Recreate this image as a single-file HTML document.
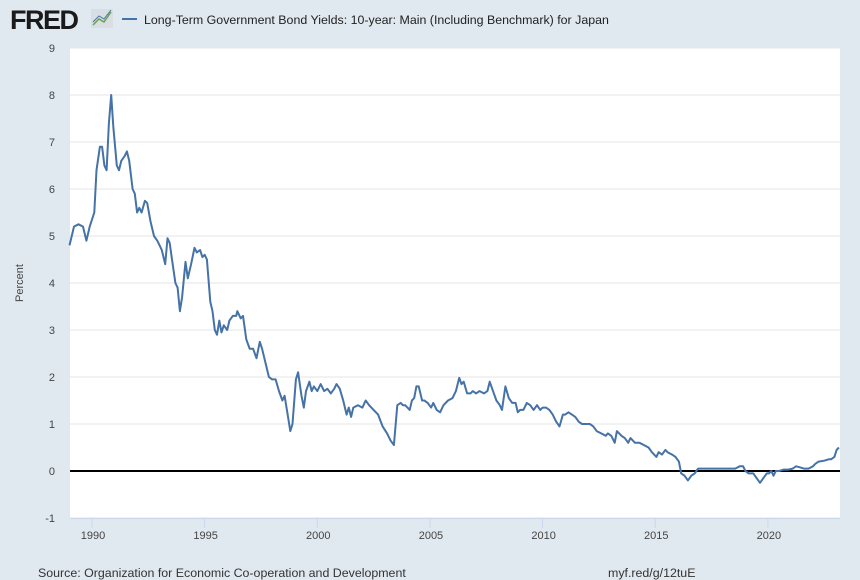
<!DOCTYPE html>
<html><head><meta charset="utf-8"><style>
body{margin:0;background:#e1e9f0;font-family:"Liberation Sans",sans-serif;}
svg{display:block}
</style></head><body>
<svg id="chart" width="860" height="580" font-family="Liberation Sans, sans-serif">
<rect width="860" height="580" fill="#e1e9f0"/>
<text x="10" y="29" font-size="27" font-weight="bold" fill="#1a1a1a" letter-spacing="-1.5">FRED</text>
<g><rect x="91" y="9" width="22" height="19" fill="#d8dee4"/><polyline points="93,25 99,19 104,22 111,12" fill="none" stroke="#6da34d" stroke-width="1.5"/><polyline points="93,22 99,16 104,19 111,10" fill="none" stroke="#4572a7" stroke-width="1"/></g>
<line x1="122" y1="19" x2="137" y2="19" stroke="#4572a7" stroke-width="2"/>
<text x="144" y="24" font-size="12.4" fill="#222">Long-Term Government Bond Yields: 10-year: Main (Including Benchmark) for Japan</text>
<rect x="70" y="48" width="770" height="470" fill="#fff"/>
<g id="grid"></g><g id="yticks"></g><g id="xticks"></g>
<text transform="translate(23,283) rotate(-90)" font-size="11" fill="#444" text-anchor="middle">Percent</text>
<path id="series" fill="none" stroke="#4572a7" stroke-width="2" stroke-linejoin="round"/>
<text x="38" y="577" font-size="12.4" fill="#333">Source: Organization for Economic Co-operation and Development</text>
<text x="608" y="577" font-size="12.4" fill="#333">myf.red/g/12tuE</text>
</svg>
<script>
const yTicks=[-1,0,1,2,3,4,5,6,7,8,9];
const xTicks=[1990,1995,2000,2005,2010,2015,2020];
const years=[1989.0,1989.2,1989.4,1989.6,1989.75,1989.9,1990.1,1990.2,1990.35,1990.45,1990.55,1990.65,1990.75,1990.85,1990.95,1991.1,1991.2,1991.3,1991.45,1991.55,1991.65,1991.8,1991.9,1992.0,1992.1,1992.2,1992.35,1992.45,1992.6,1992.75,1992.9,1993.0,1993.1,1993.25,1993.35,1993.45,1993.55,1993.7,1993.8,1993.9,1994.0,1994.15,1994.25,1994.4,1994.55,1994.65,1994.8,1994.9,1995.0,1995.1,1995.25,1995.35,1995.45,1995.55,1995.65,1995.75,1995.85,1996.0,1996.1,1996.25,1996.4,1996.45,1996.6,1996.7,1996.85,1997.0,1997.15,1997.3,1997.45,1997.55,1997.7,1997.85,1998.0,1998.15,1998.3,1998.45,1998.55,1998.65,1998.8,1998.9,1999.05,1999.15,1999.3,1999.4,1999.5,1999.65,1999.75,1999.85,2000.0,2000.15,2000.3,2000.45,2000.6,2000.75,2000.85,2001.0,2001.15,2001.3,2001.4,2001.5,2001.6,2001.8,2002.0,2002.15,2002.3,2002.5,2002.7,2002.9,2003.1,2003.25,2003.4,2003.55,2003.7,2003.8,2003.9,2004.1,2004.2,2004.3,2004.4,2004.5,2004.65,2004.75,2004.9,2005.05,2005.15,2005.3,2005.45,2005.6,2005.8,2006.0,2006.15,2006.3,2006.4,2006.5,2006.65,2006.8,2006.9,2007.05,2007.2,2007.4,2007.55,2007.65,2007.8,2007.95,2008.1,2008.2,2008.35,2008.5,2008.65,2008.8,2008.9,2009.0,2009.15,2009.3,2009.45,2009.6,2009.75,2009.9,2010.0,2010.15,2010.3,2010.45,2010.6,2010.75,2010.9,2011.0,2011.15,2011.3,2011.45,2011.6,2011.75,2011.9,2012.1,2012.25,2012.4,2012.6,2012.8,2012.9,2013.05,2013.2,2013.3,2013.4,2013.5,2013.65,2013.8,2013.9,2014.1,2014.3,2014.5,2014.7,2014.85,2015.05,2015.15,2015.3,2015.45,2015.55,2015.75,2015.9,2016.05,2016.15,2016.3,2016.45,2016.6,2016.75,2016.9,2017.05,2017.25,2017.4,2017.6,2017.8,2018.0,2018.2,2018.4,2018.55,2018.75,2018.9,2019.0,2019.15,2019.35,2019.5,2019.65,2019.8,2019.95,2020.05,2020.15,2020.25,2020.35,2020.5,2020.7,2020.9,2021.1,2021.25,2021.4,2021.6,2021.8,2022.0,2022.1,2022.25,2022.5,2022.7,2022.8,2022.95,2023.05,2023.15];
const yields=[4.8,5.2,5.25,5.2,4.9,5.2,5.5,6.4,6.9,6.9,6.5,6.4,7.4,8.0,7.3,6.5,6.4,6.6,6.7,6.8,6.6,6.0,5.9,5.5,5.6,5.5,5.75,5.7,5.3,5.0,4.9,4.8,4.7,4.4,4.95,4.85,4.5,4.0,3.9,3.4,3.7,4.45,4.1,4.4,4.75,4.65,4.7,4.55,4.6,4.5,3.6,3.4,3.0,2.9,3.2,2.95,3.1,3.0,3.2,3.3,3.3,3.4,3.25,3.3,2.8,2.6,2.6,2.4,2.75,2.6,2.3,2.0,1.95,1.95,1.7,1.5,1.6,1.3,0.85,1.0,1.95,2.1,1.6,1.35,1.7,1.9,1.7,1.8,1.7,1.85,1.7,1.75,1.65,1.75,1.85,1.75,1.5,1.2,1.35,1.15,1.35,1.4,1.35,1.5,1.4,1.3,1.2,0.95,0.8,0.65,0.55,1.4,1.45,1.4,1.4,1.3,1.5,1.55,1.8,1.8,1.5,1.5,1.45,1.35,1.45,1.3,1.25,1.4,1.5,1.55,1.7,1.98,1.85,1.9,1.65,1.65,1.7,1.65,1.7,1.65,1.7,1.9,1.7,1.5,1.4,1.3,1.8,1.55,1.45,1.45,1.25,1.3,1.3,1.45,1.4,1.3,1.4,1.3,1.35,1.35,1.3,1.2,1.05,0.95,1.2,1.2,1.25,1.2,1.15,1.05,1.0,1.0,1.0,0.95,0.85,0.8,0.75,0.8,0.75,0.6,0.85,0.8,0.75,0.7,0.6,0.7,0.6,0.6,0.55,0.5,0.4,0.3,0.4,0.35,0.45,0.4,0.35,0.3,0.2,-0.05,-0.1,-0.2,-0.1,-0.05,0.05,0.05,0.05,0.05,0.05,0.05,0.05,0.05,0.05,0.05,0.1,0.1,0.0,-0.05,-0.05,-0.15,-0.25,-0.15,-0.05,-0.05,0.0,-0.1,0.0,0.0,0.03,0.03,0.05,0.1,0.08,0.05,0.05,0.1,0.15,0.2,0.22,0.25,0.25,0.3,0.45,0.5];
const X=y=>92+(y-1990)*22.53;
const Y=v=>471-v*47;
const NS="http://www.w3.org/2000/svg";
const grid=document.getElementById('grid'),yt=document.getElementById('yticks'),xt=document.getElementById('xticks');
yTicks.forEach(t=>{
 const l=document.createElementNS(NS,'line');
 l.setAttribute('x1',70);l.setAttribute('x2',840);l.setAttribute('y1',Y(t));l.setAttribute('y2',Y(t));
 l.setAttribute('stroke',t===0?'#000':'#e6e6e6');l.setAttribute('stroke-width',t===0?2:1);
 
 
 grid.appendChild(l);
 const tx=document.createElementNS(NS,'text');
 tx.setAttribute('x',55);tx.setAttribute('y',Y(t)+4);tx.setAttribute('text-anchor','end');tx.setAttribute('font-size','11');tx.setAttribute('fill','#444');
 tx.textContent=t;
 
 
 yt.appendChild(tx);
});
const ax=document.createElementNS(NS,'line');
ax.setAttribute('x1',70);ax.setAttribute('x2',840);ax.setAttribute('y1',518.5);ax.setAttribute('y2',518.5);ax.setAttribute('stroke','#ccd6eb');


xt.appendChild(ax);
xTicks.forEach(t=>{
 const l=document.createElementNS(NS,'line');
 l.setAttribute('x1',X(t));l.setAttribute('x2',X(t));l.setAttribute('y1',518);l.setAttribute('y2',528);l.setAttribute('stroke','#ccd6eb');
 
 
 xt.appendChild(l);
 const tx=document.createElementNS(NS,'text');
 tx.setAttribute('x',X(t)+1);tx.setAttribute('y',539);tx.setAttribute('text-anchor','middle');tx.setAttribute('font-size','11');tx.setAttribute('fill','#444');
 tx.textContent=t;
 
 
 xt.appendChild(tx);
});
document.getElementById('series').setAttribute('d',years.map((y,i)=>(i?'L':'M')+X(y).toFixed(1)+','+Y(yields[i]).toFixed(1)).join(''));
</script>
</body></html>
